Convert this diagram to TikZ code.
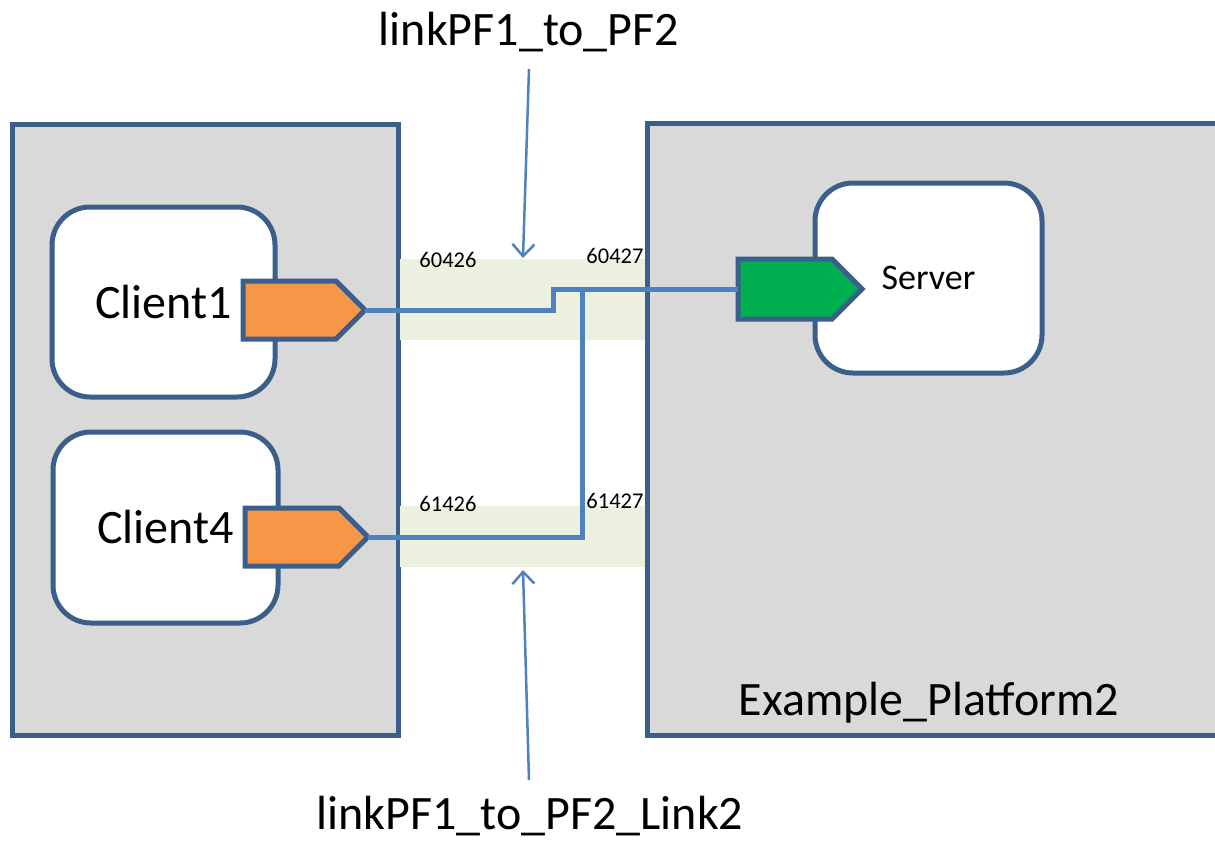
\documentclass[tikz,border=0pt]{standalone}
\usepackage{fontspec}
\setmainfont{Carlito}
\usetikzlibrary{shapes.symbols,arrows.meta}
\definecolor{frame}{HTML}{3A5F8B}
\definecolor{platfill}{HTML}{D9D9D9}
\definecolor{wire}{HTML}{4F81BD}
\definecolor{outport}{HTML}{F79646}
\definecolor{inport}{HTML}{00B050}
\definecolor{band}{HTML}{EBF1DE}
\begin{document}
\begin{tikzpicture}[x=1pt,y=-1pt,
  platform/.style={draw=frame, fill=platfill, line width=5pt, rectangle,
    inner sep=0pt, outer sep=0pt},
  component/.style={draw=frame, fill=white, line width=5pt, rectangle,
    rounded corners=38pt, inner sep=0pt, outer sep=0pt},
  linkband/.style={fill=band, rectangle, inner sep=0pt, outer sep=0pt},
  port/.style={draw=frame, line width=5pt, signal, signal to=east,
    signal pointer angle=90, inner sep=0pt, outer sep=0pt, anchor=west},
  wirestyle/.style={draw=wire, line width=5pt},
  callout/.style={draw=wire, line width=2.5pt,
    -{Straight Barb[length=12pt,width=22pt,line width=2.5pt]}},
  bigtext/.style={font=\fontsize{48}{56}\selectfont, inner sep=0pt},
  midtext/.style={font=\fontsize{36}{42}\selectfont, inner sep=0pt},
  porttext/.style={font=\fontsize{22.5}{26}\selectfont, inner sep=0pt, anchor=base}
]
\useasboundingbox (0,0) rectangle (1215,843);
\clip (0,0) rectangle (1215,843);

% platforms
\node[platform, minimum width=386pt, minimum height=611pt] (pf1) at (205,429.5) {};
\node[platform, minimum width=653pt, minimum height=612pt] (pf2) at (973.5,429) {};

% link bands between the platforms
\node[linkband, minimum width=245pt, minimum height=81pt] (band1) at (522.5,299.5) {};
\node[linkband, minimum width=245pt, minimum height=61pt] (band2) at (522.5,536.5) {};

% components
\node[component, minimum width=223pt, minimum height=190pt, bigtext] (client1) at (163.5,302) {Client1};
\node[component, minimum width=225pt, minimum height=191pt, bigtext] (client4) at (165.5,527.5) {Client4};
\node[component, minimum width=227pt, minimum height=190pt, midtext] (server) at (928.5,278) {Server};

% platform name
\node[bigtext, anchor=base] (pfname) at (929,715) {Example\_Platform2};

% wire junctions
\coordinate (j1) at (553,300);
\coordinate (j2) at (582,289);

% ports (placed by their flat back edge)
\node[port, fill=outport, minimum width=122pt, minimum height=58pt] (p1) at (243,310) {};
\node[port, fill=outport, minimum width=123pt, minimum height=58pt] (p4) at (245,537) {};
\node[port, fill=inport, minimum width=124pt, minimum height=60pt] (sp) at (738,289) {};

% wires
\draw[wirestyle] (p1.east) -| (j1) |- (sp.west);
\draw[wirestyle] (p4.east) -| (j2);

% port numbers
\node[porttext] (n1) at (448,267) {60426};
\node[porttext] (n2) at (615,263) {60427};
\node[porttext] (n3) at (448,511) {61426};
\node[porttext] (n4) at (615,508) {61427};

% link names with pointers
\node[bigtext, anchor=base] (l1) at (529,46) {linkPF1\_to\_PF2};
\node[bigtext, anchor=base] (l2) at (530,829) {linkPF1\_to\_PF2\_Link2};
\coordinate (t1) at (529,69);
\coordinate (h1) at (523,258);
\coordinate (t2) at (529,780);
\coordinate (h2) at (523,570);
\draw[callout] (t1) -- (h1);
\draw[callout] (t2) -- (h2);
\end{tikzpicture}
\end{document}
